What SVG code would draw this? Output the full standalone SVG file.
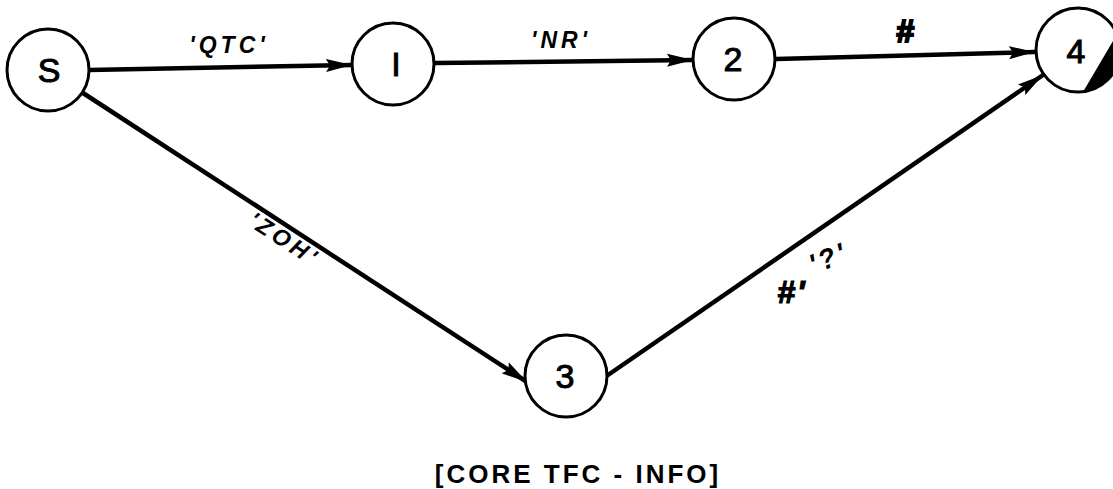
<svg xmlns="http://www.w3.org/2000/svg" width="1113" height="489" viewBox="0 0 1113 489">
<style>
.node circle{fill:#fff;stroke:#000;stroke-width:3}
.num{font-family:"Liberation Sans",Arial,sans-serif;font-size:34px;fill:#000;text-anchor:middle;stroke:#000;stroke-width:1}
.lbl{font-family:"Liberation Sans",Arial,sans-serif;font-size:23px;font-style:italic;font-weight:bold;fill:#000;text-anchor:middle;letter-spacing:4px}
.edge{stroke:#000;stroke-width:4.5;fill:none;stroke-linecap:round}
</style>
<defs>
<marker id="arr" markerUnits="userSpaceOnUse" markerWidth="28" markerHeight="18" refX="26" refY="9" orient="auto">
<path d="M0,2.5 L26,9 L0,15.5 L4,9 Z" fill="#000"/>
</marker>
</defs>
<rect width="1113" height="489" fill="#fff"/>
<g id="connectors">
<line class="edge" x1="89" y1="70" x2="352" y2="65" marker-end="url(#arr)"/>
<line class="edge" x1="435" y1="63" x2="693" y2="60" marker-end="url(#arr)"/>
<line class="edge" x1="776" y1="59" x2="1035" y2="52" marker-end="url(#arr)"/>
<line class="edge" x1="83" y1="93" x2="527" y2="382" marker-end="url(#arr)"/>
<line class="edge" x1="608" y1="375" x2="1043" y2="75" marker-end="url(#arr)"/>
<text class="lbl" x="229" y="53">'QTC'</text>
<text class="lbl" x="561" y="48">'NR'</text>
<text class="lbl" transform="translate(280,246) rotate(33)">'ZOH'</text>
<text class="lbl" x="905" y="42" style="font-size:32px;letter-spacing:0;stroke:#000;stroke-width:2">#</text>
<text class="lbl" transform="translate(832,267) rotate(-22)" style="font-size:28px;letter-spacing:3px">'?'</text>
<text class="lbl" x="792" y="303" style="font-size:32px;letter-spacing:2px;stroke:#000;stroke-width:1.2">#'</text>
</g>
<g id="node-S" class="node"><circle cx="48" cy="70" r="41"/><text class="num" x="49" y="82">S</text></g>
<g id="node-1" class="node"><circle cx="393" cy="64" r="41"/><text class="num" x="396" y="76">I</text></g>
<g id="node-2" class="node"><circle cx="734" cy="59" r="41"/><text class="num" x="733" y="71">2</text></g>
<g id="node-3" class="node"><circle cx="566" cy="376" r="41"/><text class="num" x="565" y="388">3</text></g>
<g id="node-4" class="node"><circle cx="1078" cy="50" r="42"/><path d="M1083.1 91.7 L1116.9 34.3 A42 42 0 0 1 1083.1 91.7 Z" fill="#000"/><text class="num" x="1076" y="63">4</text></g>
<text x="578" y="483" style="font-family:'Liberation Sans',Arial,sans-serif;font-size:26px;font-weight:bold;letter-spacing:3px;text-anchor:middle">[CORE TFC - INFO]</text>
</svg>
